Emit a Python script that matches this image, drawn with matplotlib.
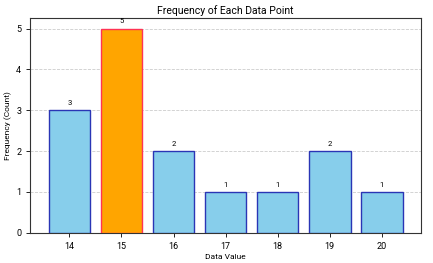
import matplotlib
matplotlib.use("Agg")
import matplotlib.pyplot as plt

plt.rcParams['font.family'] = ['Roboto', 'DejaVu Sans']

# dati
values = [14, 15, 16, 17, 18, 19, 20]
counts = [3, 5, 2, 1, 1, 2, 1]
highlight = 15

colors = ["orange" if v == highlight else "skyblue" for v in values]
edges = ["#ff3355" if v == highlight else "#2a35b5" for v in values]

fig, ax = plt.subplots(figsize=(4.33, 2.63), dpi=100)
bars = ax.bar(values, counts, width=0.8, color=colors, edgecolor=edges, linewidth=1.0, zorder=3)
ax.bar_label(bars, labels=[str(c) for c in counts], padding=3, fontsize=5.5)

ax.set_xticks(values)
ax.set_yticks(range(0, 6))
ax.set_xlim(13.25, 20.75)
ax.set_ylim(0, 5.25)
ax.yaxis.grid(True, linestyle="--", color="#cccccc", linewidth=0.6, zorder=0)
ax.tick_params(labelsize=6.5, length=3, width=0.6)
for s in ax.spines.values():
    s.set_linewidth(0.8)
    s.set_color("#333333")

ax.set_title("Frequency of Each Data Point", fontsize=7.5, pad=3)
ax.set_xlabel("Data Value", fontsize=6, labelpad=2)
ax.set_ylabel("Frequency (Count)", fontsize=6, labelpad=3)

plt.subplots_adjust(left=0.07, right=0.972, top=0.93, bottom=0.115)
plt.savefig("out.png")
